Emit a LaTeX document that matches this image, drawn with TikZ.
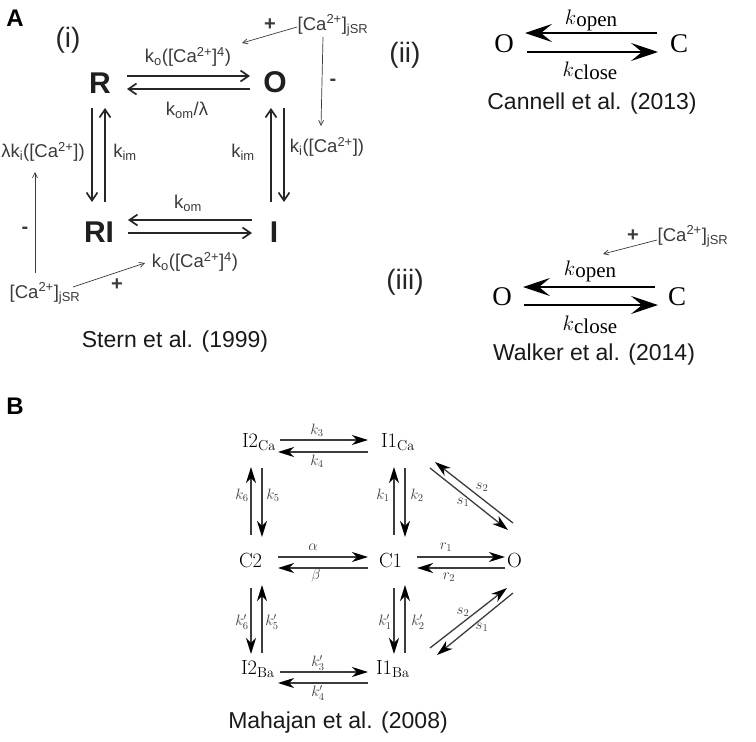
\RequirePackage{fix-cm}
\documentclass[tikz,border=0pt]{standalone}
\usepackage{fontspec}
\setsansfont{Liberation Sans}
\newfontfamily\tms{Liberation Serif}
\usetikzlibrary{arrows.meta}
\definecolor{txtA}{HTML}{3A3A3A}
\definecolor{lnA}{HTML}{262626}
\definecolor{lnB}{HTML}{3C3C3C}
\begin{document}
\begin{tikzpicture}[x=1pt,y=-1pt,
  every node/.style={inner sep=0pt,outer sep=0pt},
  panel/.style={font=\sffamily\bfseries\fontsize{24}{24}\selectfont},
  rnum/.style={font=\sffamily\fontsize{28}{28}\selectfont,text=black!85},
  stA/.style={font=\sffamily\bfseries\fontsize{30}{30}\selectfont,text=black!88},
  labA/.style={font=\sffamily\fontsize{18.5}{20}\selectfont,text=txtA},
  sgn/.style={font=\sffamily\bfseries\fontsize{20}{20}\selectfont,text=txtA},
  capt/.style={font=\sffamily\fontsize{23}{25}\selectfont,text=black!90},
  arrA/.style={draw=lnA,line width=1.7pt,-{Straight Barb[length=8pt,width=11pt]}},
  thinA/.style={draw=txtA,line width=0.7pt,-{Straight Barb[length=5pt,width=5pt]}},
  stT/.style={font=\tms\fontsize{27}{27}\selectfont},
  klab/.style={font=\fontsize{21}{21}\selectfont},
  arrT/.style={line width=1.6pt,-{Stealth[length=27pt,width=18pt,inset=11pt]}},
  stB/.style={font=\fontsize{20.5}{21}\selectfont},
  labB/.style={font=\fontsize{15}{15}\selectfont,text=lnB},
  arrB/.style={draw=lnB,line width=1.3pt,-{Stealth[length=16pt,width=10pt,inset=5pt,color=black]}},
]
\useasboundingbox (0,0) rectangle (756,742);

% ---------------- Panel A (i) ----------------
\node[panel] (pA) at (15,18) {A};
\node[rnum] (ri) at (68,40) {(i)};
\node[stA] (R) at (100,83) {R};
\node[stA] (O) at (275,82) {O};
\node[stA] (RI) at (99,232) {RI};
\node[stA] (I) at (274,232) {I};

\node[labA] (kotop) at (188,57) {k\textsubscript{o}([Ca\textsuperscript{2+}]\textsuperscript{4})};
\node[labA] (komlam) at (187,110) {k\textsubscript{om}/λ};
\node[labA] (lamki) at (43,152) {λk\textsubscript{i}([Ca\textsuperscript{2+}])};
\node[labA] (kimL) at (125,152) {k\textsubscript{im}};
\node[labA] (kimR) at (243,152) {k\textsubscript{im}};
\node[labA] (ki) at (327,147) {k\textsubscript{i}([Ca\textsuperscript{2+}])};
\node[labA] (kom) at (188,203) {k\textsubscript{om}};
\node[labA] (kobot) at (195,262) {k\textsubscript{o}([Ca\textsuperscript{2+}]\textsuperscript{4})};
\node[labA] (caA1) at (333,25) {[Ca\textsuperscript{2+}]\textsubscript{jSR}};
\node[labA] (caA2) at (45,293) {[Ca\textsuperscript{2+}]\textsubscript{jSR}};
\node[sgn] (p1) at (270,25) {+};
\node[sgn] (m1) at (333,82) {-};
\node[sgn] (m2) at (25,230) {-};
\node[sgn] (p2) at (117,285) {+};

\coordinate (ro1) at (127,76);  \coordinate (ro2) at (250,76);
\coordinate (or1) at (250,89);  \coordinate (or2) at (127,89);
\coordinate (rd1) at (92,108);  \coordinate (rd2) at (92,202);
\coordinate (ru1) at (105,202); \coordinate (ru2) at (105,108);
\coordinate (ou1) at (271,202); \coordinate (ou2) at (271,108);
\coordinate (od1) at (284,108); \coordinate (od2) at (284,202);
\coordinate (ir1) at (252,220); \coordinate (ir2) at (128,220);
\coordinate (rii1) at (128,233); \coordinate (rii2) at (252,233);
\draw[arrA] (ro1) -- (ro2);
\draw[arrA] (or1) -- (or2);
\draw[arrA] (rd1) -- (rd2);
\draw[arrA] (ru1) -- (ru2);
\draw[arrA] (ou1) -- (ou2);
\draw[arrA] (od1) -- (od2);
\draw[arrA] (ir1) -- (ir2);
\draw[arrA] (rii1) -- (rii2);

\coordinate (c1s) at (297,27);  \coordinate (c1e) at (242,43);
\coordinate (c1v) at (323,37);  \coordinate (c1w) at (321,126);
\coordinate (c2v) at (35,273);  \coordinate (c2w) at (35,172);
\coordinate (c2s) at (73,287);  \coordinate (c2e) at (145,263);
\draw[thinA] (c1s) -- (c1e);
\draw[thinA] (c1v) -- (c1w);
\draw[thinA] (c2v) -- (c2w);
\draw[thinA] (c2s) -- (c2e);

\node[capt] (stern) at (175,342) {Stern et al. (1999)};

% ---------------- Panel A (ii) ----------------
\node[rnum] (rii) at (405,55) {(ii)};
\node[stT] (Oii) at (504,44) {O};
\node[stT] (Cii) at (679,44) {C};
\node[klab] (kopii) at (591,20) {$k$\raisebox{-2pt}{\tms open}};
\node[klab] (kclii) at (590,71) {$k$\raisebox{-3pt}{\tms close}};
\coordinate (t1) at (657,33); \coordinate (t2) at (525,33);
\coordinate (b1) at (527,52); \coordinate (b2) at (658,52);
\draw[arrT] (t1) -- (t2);
\draw[arrT] (b1) -- (b2);
\node[capt] (cannell) at (592,104) {Cannell et al. (2013)};

% ---------------- Panel A (iii) ----------------
\node[rnum] (riii) at (405,282) {(iii)};
\node[stT] (Oiii) at (502,297) {O};
\node[stT] (Ciii) at (677,297) {C};
\node[klab] (kopiii) at (590,271) {$k$\raisebox{-2pt}{\tms open}};
\node[klab] (kcliii) at (590,325) {$k$\raisebox{-3pt}{\tms close}};
\coordinate (u1) at (655,287); \coordinate (u2) at (523,287);
\coordinate (v1) at (524,305); \coordinate (v2) at (658,305);
\draw[arrT] (u1) -- (u2);
\draw[arrT] (v1) -- (v2);
\node[labA] (caA3) at (693,236) {[Ca\textsuperscript{2+}]\textsubscript{jSR}};
\node[sgn] (p3) at (633,236) {+};
\coordinate (c3s) at (657,240); \coordinate (c3e) at (603,254);
\draw[thinA] (c3s) -- (c3e);
\node[capt] (walker) at (594,355) {Walker et al. (2014)};

% ---------------- Panel B ----------------
\node[panel] (pB) at (15,406) {B};
\node[stB,anchor=base west] (I2Ca) at (242,447) {$\mathrm{I2}_{\mathrm{Ca}}$};
\node[stB,anchor=base west] (I1Ca) at (381,447) {$\mathrm{I1}_{\mathrm{Ca}}$};
\node[stB,anchor=base west] (C2) at (239,567) {$\mathrm{C2}$};
\node[stB,anchor=base west] (C1) at (379,567) {$\mathrm{C1}$};
\node[stB,anchor=base west] (OB) at (507,567) {$\mathrm{O}$};
\node[stB,anchor=base west] (I2Ba) at (241,674) {$\mathrm{I2}_{\mathrm{Ba}}$};
\node[stB,anchor=base west] (I1Ba) at (376,674) {$\mathrm{I1}_{\mathrm{Ba}}$};

\node[labB] (k3) at (317,430) {$k_3$};
\node[labB] (k4) at (317,461) {$k_4$};
\node[labB] (k6) at (242,495) {$k_6$};
\node[labB] (k5) at (273,495) {$k_5$};
\node[labB] (k1) at (383,495) {$k_1$};
\node[labB] (k2) at (417,495) {$k_2$};
\node[labB] (s2u) at (482,487) {$s_2$};
\node[labB] (s1u) at (463,502) {$s_1$};
\node[labB] (al) at (313,547) {$\alpha$};
\node[labB] (be) at (316,576) {$\beta$};
\node[labB] (r1) at (446,547) {$r_1$};
\node[labB] (r2) at (449,577) {$r_2$};
\node[labB] (k6p) at (242,622) {$k_6'$};
\node[labB] (k5p) at (272,622) {$k_5'$};
\node[labB] (k1p) at (385,622) {$k_1'$};
\node[labB] (k2p) at (418,622) {$k_2'$};
\node[labB] (s2l) at (463,612) {$s_2$};
\node[labB] (s1l) at (482,627) {$s_1$};
\node[labB] (k3p) at (318,663) {$k_3'$};
\node[labB] (k4p) at (318,693) {$k_4'$};

\coordinate (a3s) at (280,440); \coordinate (a3e) at (368,440);
\coordinate (a4s) at (368,452); \coordinate (a4e) at (278,452);
\coordinate (a6s) at (251,535); \coordinate (a6e) at (251,467);
\coordinate (a5s) at (262,468); \coordinate (a5e) at (262,537);
\coordinate (a1s) at (394,535); \coordinate (a1e) at (394,467);
\coordinate (a2s) at (405,468); \coordinate (a2e) at (405,537);
\coordinate (dAs) at (513,523); \coordinate (dAe) at (435,462);
\coordinate (dBs) at (430,468); \coordinate (dBe) at (508,530);
\coordinate (aas) at (278,557); \coordinate (aae) at (368,557);
\coordinate (bbs) at (368,568); \coordinate (bbe) at (278,568);
\coordinate (r1s) at (417,557); \coordinate (r1e) at (505,557);
\coordinate (r2s) at (505,568); \coordinate (r2e) at (417,568);
\coordinate (a6ps) at (251,588); \coordinate (a6pe) at (251,654);
\coordinate (a5ps) at (262,653); \coordinate (a5pe) at (262,585);
\coordinate (a1ps) at (394,588); \coordinate (a1pe) at (394,654);
\coordinate (a2ps) at (405,653); \coordinate (a2pe) at (405,585);
\coordinate (dCs) at (430,648); \coordinate (dCe) at (507,588);
\coordinate (dDs) at (513,593); \coordinate (dDe) at (437,655);
\coordinate (a3ps) at (280,672); \coordinate (a3pe) at (368,672);
\coordinate (a4ps) at (368,683); \coordinate (a4pe) at (278,683);
\foreach \s/\e in {a3s/a3e,a4s/a4e,a6s/a6e,a5s/a5e,a1s/a1e,a2s/a2e,dAs/dAe,dBs/dBe,
  aas/aae,bbs/bbe,r1s/r1e,r2s/r2e,a6ps/a6pe,a5ps/a5pe,a1ps/a1pe,a2ps/a2pe,dCs/dCe,dDs/dDe,
  a3ps/a3pe,a4ps/a4pe}
  \draw[arrB] (\s) -- (\e);

\node[capt] (mahajan) at (338,723) {Mahajan et al. (2008)};
\end{tikzpicture}
\end{document}
